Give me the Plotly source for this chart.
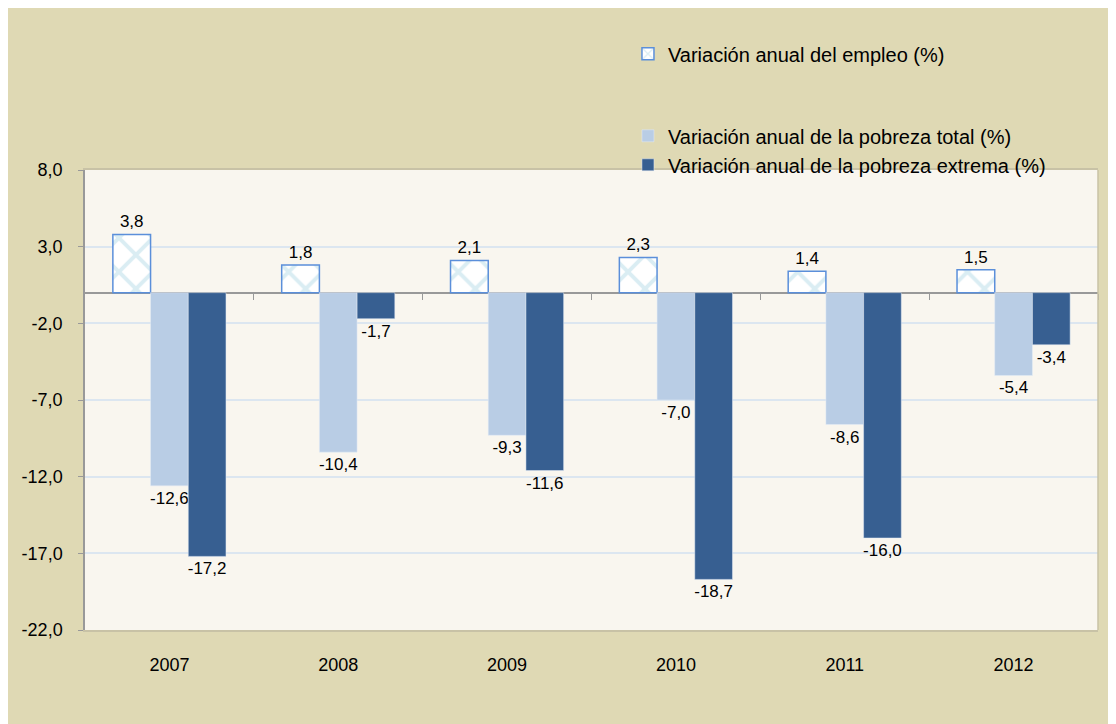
import plotly.graph_objects as go

years = ["2007", "2008", "2009", "2010", "2011", "2012"]
empleo = [3.8, 1.8, 2.1, 2.3, 1.4, 1.5]
pobreza_total = [-12.6, -10.4, -9.3, -7.0, -8.6, -5.4]
pobreza_extrema = [-17.2, -1.7, -11.6, -18.7, -16.0, -3.4]
y_ticks = [8, 3, -2, -7, -12, -17, -22]
boundaries = [0.5, 1.5, 2.5, 3.5, 4.5, 5.5]

font_family = "Liberation Sans, Arial, sans-serif"


def fmt(v):
    # decimal comma, plain hyphen for negatives
    return f"{v:.1f}".replace(".", ",")


fig = go.Figure()

# Employment bars: white with light blue crosshatch
fig.add_trace(go.Bar(
    x=years, y=empleo, name="Variación anual del empleo (%)",
    legendgroup="a",
    marker=dict(color="white", line=dict(color="#5B8FDA", width=1.5),
                pattern=dict(shape="x", fgcolor="#B5DCE8", bgcolor="white",
                             size=24, solidity=0.3)),
    text=[fmt(v) for v in empleo],
    textposition="outside", textfont=dict(size=17, color="black"),
    constraintext="none", cliponaxis=False,
))
fig.add_trace(go.Bar(
    x=years, y=pobreza_total, name="Variación anual de la pobreza total (%)",
    legendgroup="b",
    marker=dict(color="#B9CDE5"),
    text=[fmt(v) for v in pobreza_total],
    textposition="outside", textfont=dict(size=17, color="black"),
    constraintext="none", cliponaxis=False,
))
fig.add_trace(go.Bar(
    x=years, y=pobreza_extrema, name="Variación anual de la pobreza extrema (%)",
    legendgroup="b",
    marker=dict(color="#375F91"),
    text=[fmt(v) for v in pobreza_extrema],
    textposition="outside", textfont=dict(size=17, color="black"),
    constraintext="none", cliponaxis=False,
))

fig.update_layout(
    width=1116, height=724,
    margin=dict(l=77, r=26, t=162, b=102),
    paper_bgcolor="#DFD9B4",
    plot_bgcolor="#F9F6EF",
    font=dict(family=font_family, size=17, color="black"),
    barmode="group",
    bargap=0.33,
    bargroupgap=0,
    showlegend=True,
    legend=dict(x=0.536, y=1.295, xanchor="left", yanchor="top",
                bgcolor="rgba(0,0,0,0)", font=dict(size=20),
                traceorder="grouped", tracegroupgap=53,
                itemwidth=30),
    xaxis=dict(showline=True, linecolor="#C8C2A6", linewidth=1.5,
               ticks="", showgrid=False, mirror=True,
               ticklabelstandoff=18, tickfont=dict(size=18)),
    yaxis=dict(range=[-22, 8], tickmode="array", tickvals=y_ticks,
               ticktext=[fmt(v) for v in y_ticks],
               showgrid=True, gridcolor="#DCE6F0", gridwidth=1.5,
               showline=True, linecolor="#999999", linewidth=1.5,
               ticks="outside", ticklen=5, tickcolor="#999999",
               ticklabelstandoff=12,
               zeroline=True, zerolinecolor="#999999", zerolinewidth=2,
               tickfont=dict(size=18)),
    # tick marks on the zero line between categories
    xaxis2=dict(overlaying="x", anchor="free", position=22 / 30,
                range=[-0.5, 5.5], tickmode="array", tickvals=boundaries,
                ticks="outside", ticklen=6, tickcolor="#999999",
                showticklabels=False, showline=False, showgrid=False,
                zeroline=False, side="bottom"),
    shapes=[dict(type="line", xref="paper", yref="paper", x0=1, x1=1,
                 y0=0, y1=1, line=dict(color="#C8C2A6", width=1.5))],
)

fig.add_trace(go.Scatter(x=[0], y=[0], xaxis="x2", mode="markers",
                         marker=dict(opacity=0), showlegend=False,
                         hoverinfo="skip"))

fig.write_html("out.html")
